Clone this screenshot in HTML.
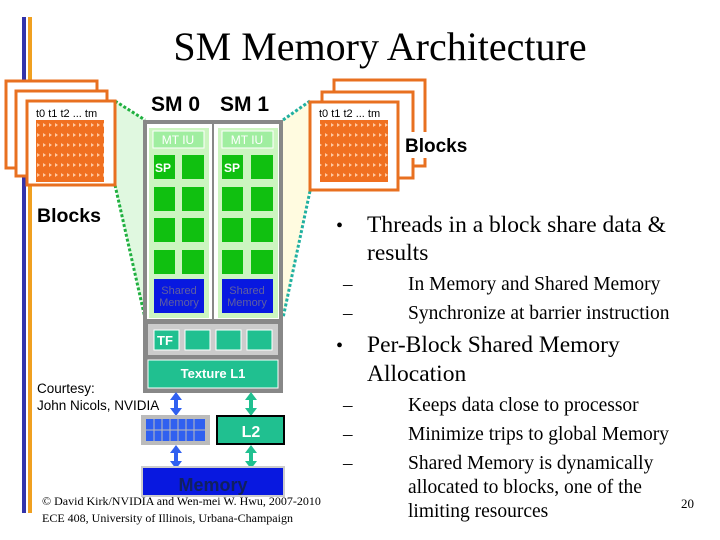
<!DOCTYPE html>
<html><head><meta charset="utf-8"><style>
html,body{margin:0;padding:0;background:#fff;width:720px;height:540px;overflow:hidden}
</style></head><body>
<svg width="720" height="540" xmlns="http://www.w3.org/2000/svg" font-family="Liberation Sans, sans-serif">
<defs>
<pattern id="thr" x="0" y="0" width="6" height="10" patternUnits="userSpaceOnUse">
<rect width="6" height="10" fill="#f07020"/>
<path d="M1 3 L4 5 L1 7Z" fill="#ffc8a0"/>
</pattern>
</defs>
<rect x="22" y="17" width="4" height="496" fill="#3333aa"/>
<rect x="28" y="17" width="4" height="496" fill="#f0a020"/>
<text x="380" y="60" font-family="Liberation Serif, serif" font-size="40" text-anchor="middle">SM Memory Architecture</text>
<polygon points="115,101 145,120 145,318 115,185" fill="#e0f8e0"/>
<polygon points="283,120 310,101 310,191 283,318" fill="#fffbe0"/>
<path d="M115,101 L145,120 M115,185 L145,318" stroke="#20b040" stroke-width="3" stroke-dasharray="3,2" fill="none"/>
<path d="M310,101 L283,120 M310,191 L283,318" stroke="#20b0a0" stroke-width="3" stroke-dasharray="3,2" fill="none"/>
<g fill="#fff" stroke="#e87020" stroke-width="3">
<rect x="6" y="81" width="91" height="87"/>
<rect x="16" y="91" width="91" height="85"/>
<rect x="27" y="101" width="88" height="84"/>
</g>
<rect x="36" y="120" width="68" height="62" fill="url(#thr)"/>
<text x="36" y="117" font-size="11">t0 t1 t2 ... tm</text>
<text x="37" y="222" font-size="19.5" font-weight="bold">Blocks</text>
<g fill="#fff" stroke="#e87020" stroke-width="3">
<rect x="334" y="80" width="91" height="86"/>
<rect x="322" y="92" width="91" height="86"/>
<rect x="310" y="102" width="88" height="88"/>
</g>
<rect x="320" y="120" width="68" height="62" fill="url(#thr)"/>
<text x="319" y="117" font-size="11">t0 t1 t2 ... tm</text>
<rect x="402" y="132" width="72" height="26" fill="#fff"/>
<text x="405" y="152" font-size="19" font-weight="bold">Blocks</text>
<text x="151" y="111" font-size="21" font-weight="bold">SM 0</text>
<text x="220" y="111" font-size="21" font-weight="bold">SM 1</text>
<rect x="143" y="120" width="140" height="273" fill="#888"/>
<rect x="147" y="124" width="132" height="195" fill="#fff"/>
<rect x="212" y="124" width="2" height="195" fill="#888"/>
<g>
<rect x="149" y="128" width="60" height="190" fill="#ccf5c0"/>
<rect x="218" y="128" width="60" height="190" fill="#ccf5c0"/>
<rect x="153" y="131" width="51" height="17" fill="#a0eea0" stroke="#fff"/>
<rect x="222" y="131" width="51" height="17" fill="#a0eea0" stroke="#fff"/>
<text x="178" y="144" font-size="12" fill="#fff" text-anchor="middle">MT IU</text>
<text x="247" y="144" font-size="12" fill="#fff" text-anchor="middle">MT IU</text>
<g fill="#10c010">
<rect x="154" y="155" width="21" height="24"/><rect x="182" y="155" width="22" height="24"/>
<rect x="154" y="187" width="21" height="24"/><rect x="182" y="187" width="22" height="24"/>
<rect x="154" y="218" width="21" height="24"/><rect x="182" y="218" width="22" height="24"/>
<rect x="154" y="250" width="21" height="24"/><rect x="182" y="250" width="22" height="24"/>
<rect x="222" y="155" width="21" height="24"/><rect x="251" y="155" width="22" height="24"/>
<rect x="222" y="187" width="21" height="24"/><rect x="251" y="187" width="22" height="24"/>
<rect x="222" y="218" width="21" height="24"/><rect x="251" y="218" width="22" height="24"/>
<rect x="222" y="250" width="21" height="24"/><rect x="251" y="250" width="22" height="24"/>
</g>
<text x="155" y="172" font-size="12" fill="#fff" font-weight="bold">SP</text>
<text x="224" y="172" font-size="12" fill="#fff" font-weight="bold">SP</text>
<rect x="154" y="279" width="50" height="34" fill="#0818e0"/>
<rect x="222" y="279" width="51" height="34" fill="#0818e0"/>
<text x="179" y="294" font-size="11" fill="#6060a0" text-anchor="middle">Shared</text>
<text x="179" y="306" font-size="11" fill="#6060a0" text-anchor="middle">Memory</text>
<text x="247" y="294" font-size="11" fill="#6060a0" text-anchor="middle">Shared</text>
<text x="247" y="306" font-size="11" fill="#6060a0" text-anchor="middle">Memory</text>
</g>
<rect x="148" y="324" width="130" height="31" fill="#ccc"/>
<g fill="#20c090" stroke="#fff">
<rect x="154" y="330" width="25" height="20"/><rect x="185" y="330" width="25" height="20"/>
<rect x="216" y="330" width="25" height="20"/><rect x="247" y="330" width="25" height="20"/>
<rect x="148" y="360" width="130" height="28"/>
</g>
<text x="157" y="345" font-size="13" font-weight="bold" fill="#fff">TF</text>
<text x="213" y="378" font-size="13" font-weight="bold" fill="#fff" text-anchor="middle">Texture L1</text>
<g fill="#3060f0">
<rect x="174" y="398" width="4" height="12"/><polygon points="170,400 176,392 182,400"/><polygon points="170,408 176,416 182,408"/>
<rect x="174" y="451" width="4" height="12"/><polygon points="170,453 176,445 182,453"/><polygon points="170,461 176,469 182,461"/>
</g>
<g fill="#20c090">
<rect x="249" y="398" width="4" height="12"/><polygon points="245,400 251,392 257,400"/><polygon points="245,408 251,416 257,408"/>
<rect x="249" y="451" width="4" height="12"/><polygon points="245,453 251,445 257,453"/><polygon points="245,461 251,469 257,461"/>
</g>
<rect x="141" y="415" width="69" height="30" fill="#bbb"/>
<rect x="146" y="419" width="59" height="22" fill="#3060f0"/>
<g stroke="#bbb" stroke-width="1">
<path d="M146,430 H205 M154,419 V441 M162,419 V441 M170,419 V441 M178,419 V441 M186,419 V441 M194,419 V441"/>
</g>
<rect x="217" y="416" width="67" height="28" fill="#20c090" stroke="#000" stroke-width="2"/>
<text x="251" y="437" font-size="16" font-weight="bold" fill="#fff" text-anchor="middle">L2</text>
<rect x="142" y="467" width="142" height="29" fill="#0818e0" stroke="#ccc" stroke-width="2"/>
<text x="213" y="491" font-size="18" font-weight="bold" fill="#102060" text-anchor="middle">Memory</text>
<text x="37" y="393" font-size="13.5">Courtesy:</text>
<text x="37" y="410" font-size="13.5">John Nicols, NVIDIA</text>
<text x="42" y="505" font-family="Liberation Serif, serif" font-size="12">© David Kirk/NVIDIA and Wen-mei W. Hwu, 2007-2010</text>
<text x="42" y="522" font-family="Liberation Serif, serif" font-size="12">ECE 408, University of Illinois, Urbana-Champaign</text>
<g font-family="Liberation Serif, serif">
<text x="336" y="232" font-size="20">•</text>
<text x="367" y="232" font-size="23.5">Threads in a block share data &amp;</text>
<text x="367" y="260" font-size="23.5">results</text>
<text x="343" y="290" font-size="19">–</text>
<text x="408" y="290" font-size="19.5">In Memory and Shared Memory</text>
<text x="343" y="319" font-size="19">–</text>
<text x="408" y="319" font-size="19.5">Synchronize at barrier instruction</text>
<text x="336" y="352" font-size="20">•</text>
<text x="367" y="352" font-size="23.5">Per-Block Shared Memory</text>
<text x="367" y="381" font-size="23.5">Allocation</text>
<text x="343" y="411" font-size="19">–</text>
<text x="408" y="411" font-size="19.5">Keeps data close to processor</text>
<text x="343" y="440" font-size="19">–</text>
<text x="408" y="440" font-size="19.5">Minimize trips to global Memory</text>
<text x="343" y="469" font-size="19">–</text>
<text x="408" y="469" font-size="19.5">Shared Memory is dynamically</text>
<text x="408" y="493" font-size="19.5">allocated to blocks, one of the</text>
<text x="408" y="517" font-size="19.5">limiting resources</text>
<text x="681" y="508" font-size="13">20</text>
</g>
</svg>
</body></html>
